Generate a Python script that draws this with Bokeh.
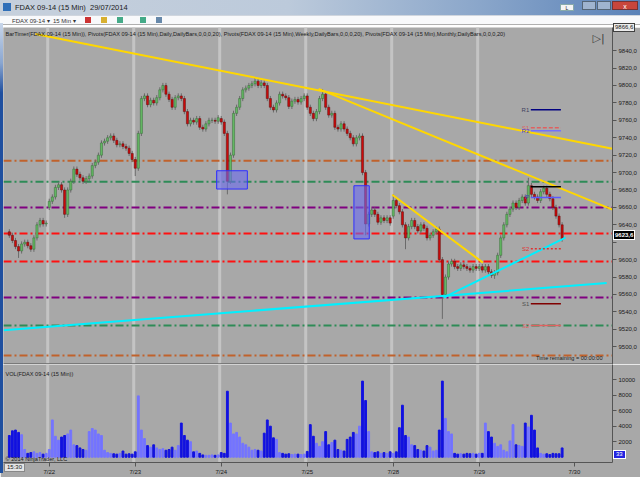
from bokeh.plotting import figure
from bokeh.models import Range1d, FixedTicker, CustomJSTickFormatter, Label, Span, Div
from bokeh.layouts import column
from bokeh.embed import file_html
from bokeh.resources import INLINE

# ---------------- data ----------------
day_labels = ["7/22", "7/23", "7/24", "7/25", "7/28", "7/29", "7/30"]
day_label_pos = [13, 41, 69, 97, 125, 153, 184]
session_starts = [13, 41, 69, 97, 125, 153]

day_opens = [9632, 9660, 9715, 9762, 9788, 9650, 9590]
closes = [
    [9628, 9622, 9615, 9610, 9618, 9620, 9616, 9612, 9625, 9640, 9645, 9641, 9642],
    [9667, 9672, 9683, 9686, 9680, 9652, 9680, 9690, 9704, 9698, 9694, 9690, 9693, 9696,
     9708, 9712, 9720, 9734, 9736, 9740, 9742, 9737, 9732, 9733, 9730, 9728, 9722, 9715],
    [9705, 9745, 9785, 9788, 9778, 9783, 9780, 9786, 9795, 9800, 9790, 9784, 9775, 9786,
     9788, 9785, 9770, 9756, 9760, 9758, 9762, 9752, 9750, 9756, 9760, 9760, 9759, 9763],
    [9758, 9745, 9690, 9720, 9768, 9775, 9785, 9795, 9797, 9800, 9802, 9805, 9800, 9803,
     9800, 9785, 9775, 9772, 9780, 9790, 9788, 9786, 9776, 9782, 9784, 9781, 9785, 9788],
    [9775, 9768, 9762, 9770, 9785, 9790, 9775, 9766, 9768, 9752, 9750, 9756, 9750, 9745,
     9740, 9733, 9740, 9742, 9700, 9641, 9652, 9657, 9652, 9643, 9648, 9645, 9648, 9642],
    [9668, 9662, 9655, 9640, 9625, 9638, 9645, 9638, 9633, 9640, 9636, 9625, 9628, 9632,
     9635, 9600, 9560, 9580, 9595, 9598, 9592, 9590, 9594, 9592, 9590, 9588, 9592, 9590],
    [9592, 9588, 9592, 9586, 9582, 9585, 9605, 9625, 9640, 9652, 9658, 9665, 9660, 9668,
     9672, 9665, 9685, 9675, 9672, 9668, 9678, 9682, 9675, 9670, 9660, 9650, 9640, 9623.6],
]
extreme_lows = [(0, 3, 9602), (1, 5, 9648), (2, 0, 9696), (3, 2, 9675), (4, 19, 9628),
                (5, 4, 9612), (5, 16, 9532), (6, 5, 9578)]
extreme_highs = [(2, 9, 9803), (3, 11, 9809), (4, 5, 9796), (5, 0, 9675), (6, 16, 9694)]

volumes = [
    [2800, 3400, 3500, 3200, 2900, 1000, 500, 600, 700, 500, 600, 400, 500],
    [1000, 4800, 2700, 2200, 2600, 2800, 3000, 3500, 1600, 1500, 1200, 1000, 900, 3300,
     3700, 3500, 3000, 2800, 900, 600, 500, 450, 400, 500, 800, 400, 450, 400],
    [700, 7900, 3500, 2400, 1500, 1300, 1600, 1200, 1000, 1100, 900, 1000, 1300, 900,
     1500, 4400, 2800, 2200, 2000, 700, 800, 500, 300, 250, 250, 300, 250, 300],
    [600, 500, 8500, 4400, 3000, 3200, 2600, 1800, 1600, 1300, 900, 1000, 900, 800,
     3100, 4800, 4000, 2500, 2300, 600, 500, 400, 450, 350, 400, 400, 350, 400],
    [750, 4200, 2700, 1800, 1400, 2000, 3300, 1600, 1900, 2200, 1000, 900, 800, 2300,
     2600, 3200, 3000, 4000, 9800, 7300, 3300, 700, 600, 700, 500, 600, 500, 700],
    [500, 700, 3800, 6700, 2800, 2600, 1600, 1500, 1000, 900, 800, 1500, 1300, 800,
     900, 3500, 9800, 5000, 3300, 3000, 500, 400, 450, 400, 500, 450, 500, 400],
    [500, 500, 4400, 3300, 2600, 1800, 1400, 1600, 900, 700, 2100, 4200, 1600, 1500,
     1400, 4400, 3900, 5400, 3500, 1200, 500, 400, 450, 350, 500, 450, 450, 1200],
]

pivot_levels = [9713.6, 9689.5, 9660.0, 9630.0, 9598.0, 9556.5, 9524.5, 9490.0]
pivot_colors = ["#c0622c", "#2e8b57", "#800080", "#ff1010", "#ff1010", "#800080", "#2e8b57", "#c0622c"]

yellow_lines = [(8.5, 9859.2, 196.4, 9727.3), (100.7, 9796.1, 196.4, 9657.4), (124.7, 9674.6, 154.2, 9596.6)]
cyan_lines = [(-1.9, 9519.0, 194.5, 9573.1), (141.4, 9556.4, 181.1, 9625.2)]
boxes = [(67.5, 77.5, 9681.1, 9702.1), (112.2, 117.2, 9623.8, 9684.9)]
day_marks = [(9772.1, "#000080", "solid", "R1", "#404060"),
             (9751.4, "#e06060", "4 2", "S1", "#e06060"),
             (9748.0, "#7070ff", "solid", "R2", "#4040e0"),
             (9683.7, "#000000", "solid", "", "#000000"),
             (9671.5, "#5a5aff", "solid", "P", "#4040c0"),
             (9612.6, "#e03030", "2 2", "S2", "#e03030"),
             (9549.5, "#800000", "solid", "S1", "#505050"),
             (9524.3, "#e06060", "solid", "S2", "#e06060")]

last_price_text = "9623,6"
top_price_text = "9866,6"
last_volume_text = "33"

# ---------------- derived ----------------
BG = "#a8a8a8"
FONT = "Liberation Sans"
idx, o, h, l, c, vol = [], [], [], [], [], []
lo_map = {(d, i): v for d, i, v in extreme_lows}
hi_map = {(d, i): v for d, i, v in extreme_highs}
prev = None
for d, day in enumerate(closes):
    base = 0 if d == 0 else 13 + 28 * (d - 1)
    for i, cl in enumerate(day):
        op = day_opens[d] if i == 0 else prev
        idx.append(base + i)
        o.append(op)
        c.append(cl)
        h.append(hi_map.get((d, i), max(op, cl) + 3))
        l.append(lo_map.get((d, i), min(op, cl) - 3))
        vol.append(volumes[d][i])
        prev = cl
up = [cc >= oo for oo, cc in zip(o, c)]

FW = 609
XR = Range1d(-1.9, 196.4)


def style_axis(ax):
    ax.axis_line_color = "#555555"
    ax.major_tick_line_color = "#555555"
    ax.major_tick_out = 4
    ax.major_tick_in = 0
    ax.minor_tick_line_color = None
    ax.major_label_text_font_size = "6px"
    ax.major_label_text_color = "#1a1a1a"
    ax.major_label_text_font = FONT
    ax.major_label_standoff = 2


p = figure(frame_width=FW, frame_height=337, x_range=XR, y_range=Range1d(9479.6, 9866.6),
           y_axis_location="right", x_axis_location=None, output_backend="svg", toolbar_location=None,
           min_border_left=3, min_border_right=28, min_border_top=0, min_border_bottom=0,
           background_fill_color=BG, border_fill_color=BG, outline_line_color=None)
p.grid.visible = False
for s in session_starts:
    p.add_layout(Span(location=s - 0.5, dimension="height", line_color="#c4c4c4", line_width=3, level="underlay"))
p.segment(x0=[-1.9] * len(pivot_levels), x1=[196.4] * len(pivot_levels), y0=pivot_levels, y1=pivot_levels,
          line_color=pivot_colors, line_width=2, line_dash="8 3 2 3")

p.segment(x0=idx, x1=idx, y0=l, y1=h, line_color="#6a6a6a", line_width=1)
p.vbar(x=[x for x, u in zip(idx, up) if u], width=0.7,
       top=[max(a, b) for a, b, u in zip(o, c, up) if u], bottom=[min(a, b) for a, b, u in zip(o, c, up) if u],
       fill_color="#62b862", line_color="#3a6a3a", line_width=0.5)
p.vbar(x=[x for x, u in zip(idx, up) if not u], width=0.7,
       top=[max(a, b) for a, b, u in zip(o, c, up) if not u], bottom=[min(a, b) for a, b, u in zip(o, c, up) if not u],
       fill_color="#cc0a0a", line_color="#5a1010", line_width=0.5)

for (x0, y0, x1, y1) in yellow_lines:
    p.line([x0, x1], [y0, y1], line_color="#ffd700", line_width=2)
for (x0, y0, x1, y1) in cyan_lines:
    p.line([x0, x1], [y0, y1], line_color="#00f0ff", line_width=2)
for (x0, x1, y0, y1) in boxes:
    p.quad(left=x0, right=x1, bottom=y0, top=y1, fill_color="#6a6af0", fill_alpha=0.6, line_color="#3030ff", line_width=1)
for price, col, dash, lab, lcol in day_marks:
    p.line([169.8, 179.6], [price, price], line_color=col, line_width=1.5, line_dash=dash)
    if lab:
        p.add_layout(Label(x=169.3, y=price, text=lab, text_color=lcol, text_font=FONT, text_font_size="6px",
                           text_align="right", text_baseline="middle"))

p.add_layout(Span(location=9480.2, dimension="width", line_color="#6a6a6a", line_width=1.5))

p.yaxis.ticker = FixedTicker(ticks=list(range(9500, 9841, 20)))
p.yaxis.formatter = CustomJSTickFormatter(code="return tick == 9620 ? '' : tick.toFixed(1).replace('.', ',');")
style_axis(p.yaxis)

p.add_layout(Label(x=2, y=337 - 3, x_units="screen", y_units="screen", text_baseline="top",
                   text="BarTimer(FDAX 09-14 (15 Min)), Pivots(FDAX 09-14 (15 Min),Daily,DailyBars,0,0,0,20), "
                        "Pivots(FDAX 09-14 (15 Min),Weekly,DailyBars,0,0,0,20), "
                        "Pivots(FDAX 09-14 (15 Min),Monthly,DailyBars,0,0,0,20)",
                   text_font=FONT, text_font_size="5.6px", text_color="#202020"))
p.add_layout(Label(x=FW - 20, y=337 - 4, x_units="screen", y_units="screen", text="▷|", text_baseline="top",
                   text_font="DejaVu Sans", text_font_size="11px", text_color="#404040"))
p.add_layout(Label(x=171.5, y=4, y_units="screen", text="Time remaining = 00:00:00", text_baseline="bottom",
                   text_font=FONT, text_font_size="5.6px", text_color="#202020"))

# ---------------- volume panel ----------------
v = figure(frame_width=FW, frame_height=98, x_range=XR, y_range=Range1d(-675, 11940),
           y_axis_location="right", output_backend="svg", toolbar_location=None,
           min_border_left=3, min_border_right=28, min_border_top=0, min_border_bottom=14,
           background_fill_color=BG, border_fill_color=BG, outline_line_color=None)
v.grid.visible = False
for s in session_starts:
    v.add_layout(Span(location=s - 0.5, dimension="height", line_color="#c4c4c4", line_width=3, level="underlay"))
v.vbar(x=idx, top=vol, bottom=0, width=0.6,
       color=["#7474ff" if u else "#1212e0" for u in up])
v.yaxis.ticker = FixedTicker(ticks=[2000, 4000, 6000, 8000, 10000])
v.xaxis.ticker = FixedTicker(ticks=day_label_pos)
v.xaxis.major_label_overrides = {pos: lab for pos, lab in zip(day_label_pos, day_labels)}
style_axis(v.yaxis)
style_axis(v.xaxis)
v.add_layout(Label(x=2, y=98 - 6, x_units="screen", y_units="screen", text="VOL(FDAX 09-14 (15 Min))",
                   text_baseline="top", text_font=FONT, text_font_size="5.6px", text_color="#202020"))
v.add_layout(Label(x=2, y=1, x_units="screen", y_units="screen", text="© 2014 NinjaTrader, LLC",
                   text_baseline="bottom", text_font=FONT, text_font_size="5.6px", text_color="#202020"))

# ---------------- window chrome ----------------
chrome = Div(text="""<div style="position:relative;width:640px;height:27px;overflow:hidden;font-family:'Liberation Sans',Arial,sans-serif;">
<div style="position:relative;height:15px;background:linear-gradient(90deg,#c6d0dc 0%,#bccadb 45%,#8aa6ca 75%,#5a82b8 100%);font-size:7.5px;line-height:15px;color:#1a1a1a;">
<span style="position:absolute;left:3px;top:3px;width:8px;height:8px;background:#2f6fb8;"></span>
<span style="position:absolute;left:15px;top:0px;">FDAX 09-14 (15 Min)&nbsp;&nbsp;29/07/2014</span>
<span style="position:absolute;right:66px;top:4px;width:14px;height:7px;background:#f4f4f4;border:1px solid #8aa;font-size:5px;line-height:7px;text-align:center;">L</span>
<span style="position:absolute;right:44px;top:1px;width:14px;height:9px;background:#9fb4cf;border:1px solid #567;"></span>
<span style="position:absolute;right:29px;top:1px;width:14px;height:9px;background:#9fb4cf;border:1px solid #567;"></span>
<span style="position:absolute;right:2px;top:1px;width:26px;height:9px;background:#c8463c;border:1px solid #733;color:white;font-size:7px;line-height:9px;text-align:center;">x</span>
</div>
<div style="height:10px;background:#f8f9fb;border-top:1px solid #d0d6de;border-bottom:1px solid #b0b0b0;font-size:6px;line-height:10px;color:#333;padding-left:12px;">FDAX 09-14 &#9662;&nbsp;&nbsp;15 Min &#9662;
<span style="display:inline-block;width:6px;height:6px;background:#c33;margin-left:8px;"></span>
<span style="display:inline-block;width:6px;height:6px;background:#d8b030;margin-left:8px;"></span>
<span style="display:inline-block;width:6px;height:6px;background:#4a8;margin-left:8px;"></span>
<span style="display:inline-block;width:6px;height:6px;background:#4a8;margin-left:16px;"></span>
<span style="display:inline-block;width:6px;height:6px;background:#68a;margin-left:8px;"></span>
</div></div>""", width=640, height=27, margin=0)

# overlay markers on the axis areas (positions measured up from the overlay's origin)
overlay = Div(text=f"""<div style="position:relative;width:640px;height:0px;font-family:'Liberation Sans',Arial,sans-serif;">
<div style="position:absolute;left:0px;top:-466px;width:3px;height:450px;background:linear-gradient(#c8d6ea 0px,#8aa6d0 40px,#1f4f9f 70px,#1f4f9f 450px);"></div>
<div style="position:absolute;left:613px;top:-466px;padding:0 1px;background:#ececec;border:1px solid #404040;font-size:6px;line-height:7px;color:#202020;">{top_price_text}</div>
<div style="position:absolute;left:613px;top:-259px;padding:0 1px;background:#000;border:1px solid #fff;font-size:6px;line-height:8px;font-weight:bold;color:#fff;">{last_price_text}</div>
<div style="position:absolute;left:613px;top:-39px;padding:0 2px;background:#2424e0;border:1px solid #fff;font-size:6px;line-height:7px;color:#fff;">{last_volume_text}</div>
<div style="position:absolute;left:4px;top:-26px;padding:0 2px;background:#e6e6e6;border:1px solid #888;font-size:6px;line-height:7px;color:#202020;">15:30</div>
</div>""", width=640, height=0, margin=0)

layout = column(chrome, p, v, overlay, spacing=0)
open("out.html", "w").write(file_html(layout, INLINE))
